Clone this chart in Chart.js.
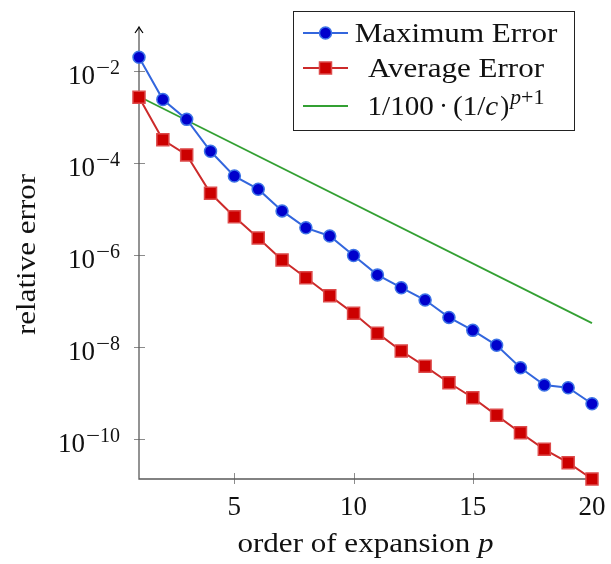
<!DOCTYPE html>
<html>
<head>
<meta charset="utf-8">
<title>relative error vs order of expansion</title>
<script src="https://cdn.jsdelivr.net/npm/chart.js@4.4.0/dist/chart.umd.min.js"></script>
<style>
  body { margin: 0; background: #fff; }
  #wrap { width: 611px; height: 564px; }
</style>
</head>
<body>
<div id="wrap"><canvas id="errorChart" width="611" height="564"></canvas></div>
<script>
// values
const orders = [1, 2, 3, 4, 5, 6, 7, 8, 9, 10, 11, 12, 13, 14, 15, 16, 17, 18, 19, 20];
const maxError = [2.0e-2, 2.4e-3, 8.9e-4, 1.8e-4, 5.2e-5, 2.7e-5, 9.1e-6, 3.9e-6, 2.6e-6, 9.8e-7,
                  3.7e-7, 1.95e-7, 1.05e-7, 4.4e-8, 2.3e-8, 1.09e-8, 3.55e-9, 1.49e-9, 1.30e-9, 5.85e-10];
const avgError = [2.7e-3, 3.2e-4, 1.5e-4, 2.2e-5, 6.8e-6, 2.34e-6, 7.8e-7, 3.2e-7, 1.3e-7, 5.4e-8,
                  2.0e-8, 8.2e-9, 3.8e-9, 1.67e-9, 7.9e-10, 3.27e-10, 1.37e-10, 5.97e-11, 3.05e-11, 1.35e-11];
// reference line 1/100*(1/c)^(p+1): just its two end points, straight on a log axis
const refOrders = [1, 20];
const refLine = [2.8e-3, 3.3e-8];

const xTicks = [5, 10, 15, 20];
const yTicks = [1e-10, 1e-8, 1e-6, 1e-4, 1e-2];
const yExponents = ['10', '8', '6', '4', '2'];

const serif = '"Liberation Serif", "Times New Roman", serif';
const WIDE = 1.15; // Computer Modern is wider than Times

function font(size, italic) {
  return (italic ? 'italic ' : '') + size + 'px ' + serif;
}

function runWidth(ctx, r) {
  ctx.font = font(r.size, r.italic);
  return ctx.measureText(r.text).width * (r.sx || 1);
}

// draw a row of text pieces (for superscripts / italics)
function drawRuns(ctx, runs, x, y, align) {
  const total = runs.reduce((w, r) => w + runWidth(ctx, r) + (r.gap || 0), 0);
  let cx = align === 'center' ? x - total / 2 : align === 'right' ? x - total : x;
  ctx.textAlign = 'left';
  ctx.textBaseline = 'alphabetic';
  runs.forEach(r => {
    const w = runWidth(ctx, r);
    ctx.save();
    ctx.translate(cx, y + (r.dy || 0));
    ctx.scale(r.sx || 1, 1);
    ctx.font = font(r.size, r.italic);
    ctx.fillText(r.text, 0, 0);
    ctx.restore();
    cx += w + (r.gap || 0);
  });
}

const texAxes = {
  id: 'texAxes',
  beforeDatasetsDraw(chart) {
    const { ctx, chartArea: a, scales: { x, y } } = chart;
    ctx.save();
    ctx.strokeStyle = '#8c8c8c';
    ctx.lineWidth = 1;
    yTicks.forEach(v => {
      const py = Math.round(y.getPixelForValue(v)) + 0.5;
      ctx.beginPath(); ctx.moveTo(a.left - 5, py); ctx.lineTo(a.left + 6, py); ctx.stroke();
    });
    xTicks.forEach(v => {
      const px = Math.round(x.getPixelForValue(v)) + 0.5;
      ctx.beginPath(); ctx.moveTo(px, a.bottom - 6); ctx.lineTo(px, a.bottom + 5); ctx.stroke();
    });

    ctx.strokeStyle = '#5a5a5a';
    ctx.lineWidth = 1.3;
    ctx.beginPath();
    ctx.moveTo(a.left, a.top - 2);
    ctx.lineTo(a.left, a.bottom);
    ctx.lineTo(a.right, a.bottom);
    ctx.stroke();

    // arrow head on the y axis
    ctx.strokeStyle = '#000';
    ctx.lineWidth = 1.2;
    ctx.beginPath();
    ctx.moveTo(a.left - 4, a.top + 3);
    ctx.quadraticCurveTo(a.left - 1, a.top - 1, a.left, a.top - 3);
    ctx.quadraticCurveTo(a.left + 1, a.top - 1, a.left + 4, a.top + 3);
    ctx.stroke();
    ctx.restore();
  },
  afterDraw(chart) {
    const { ctx, chartArea: a, scales: { x, y } } = chart;
    ctx.save();
    ctx.fillStyle = '#111';

    // y tick labels 10^-n (minus drawn wide like the TeX one)
    yTicks.forEach((v, i) => {
      const py = y.getPixelForValue(v);
      drawRuns(ctx, [
        { text: '10', size: 27, gap: 1 },
        { text: '\u2212', size: 20, dy: -10, sx: 1.25 },
        { text: yExponents[i], size: 20, dy: -10 }
      ], 120, py + 13, 'right');
    });

    // x tick labels
    xTicks.forEach(v => {
      drawRuns(ctx, [{ text: String(v), size: 27 }], x.getPixelForValue(v), 515, 'center');
    });

    // axis titles
    drawRuns(ctx, [
      { text: 'order of expansion ', size: 27, sx: WIDE },
      { text: 'p', size: 27, italic: true, sx: WIDE }
    ], (a.left + a.right) / 2, 552, 'center');

    ctx.save();
    ctx.translate(35, (a.top + a.bottom) / 2);
    ctx.rotate(-Math.PI / 2);
    drawRuns(ctx, [{ text: 'relative error', size: 27, sx: WIDE }], 0, 0, 'center');
    ctx.restore();

    // legend
    const lg = { left: 293, top: 11, right: 574, bottom: 130 };
    ctx.fillStyle = '#fff';
    ctx.fillRect(lg.left, lg.top, lg.right - lg.left, lg.bottom - lg.top);
    ctx.strokeStyle = '#222';
    ctx.lineWidth = 1;
    ctx.strokeRect(lg.left + 0.5, lg.top + 0.5, lg.right - lg.left, lg.bottom - lg.top);

    const rows = [33, 68, 106];
    chart.data.datasets.forEach((ds, i) => {
      const ry = rows[i];
      ctx.strokeStyle = ds.borderColor;
      ctx.lineWidth = ds.borderWidth;
      ctx.beginPath(); ctx.moveTo(303, ry); ctx.lineTo(348, ry); ctx.stroke();
      if (ds.pointRadius > 0) {
        ctx.fillStyle = ds.pointBackgroundColor;
        ctx.strokeStyle = ds.pointBorderColor;
        ctx.lineWidth = ds.pointBorderWidth;
        Chart.helpers.drawPoint(ctx, {
          pointStyle: ds.pointStyle, radius: ds.pointRadius, rotation: 0, borderWidth: ds.pointBorderWidth
        }, 325.5, ry);
      }
    });

    ctx.fillStyle = '#111';
    drawRuns(ctx, [{ text: 'Maximum Error', size: 27, sx: WIDE }], 456, 41.5, 'center');
    drawRuns(ctx, [{ text: 'Average Error', size: 27, sx: WIDE }], 456, 77, 'center');
    drawRuns(ctx, [
      { text: '1/100', size: 27, gap: 5, sx: 1.08 },
      { text: '\u00b7', size: 27, gap: 5 },
      { text: '(1/', size: 27, sx: 1.08 },
      { text: 'c', size: 27, italic: true, gap: 2, sx: 1.08 },
      { text: ')', size: 27, gap: 1 },
      { text: 'p', size: 20, italic: true, dy: -11, sx: 1.08 },
      { text: '+1', size: 20, dy: -11, sx: 1.1 }
    ], 456, 115, 'center');

    ctx.restore();
  }
};

const toPoints = (xs, ys) => xs.map((p, i) => ({ x: p, y: ys[i] }));

new Chart(document.getElementById('errorChart'), {
  type: 'line',
  data: {
    datasets: [{
      label: 'Maximum Error',
      data: toPoints(orders, maxError),
      borderColor: '#3366dd',
      borderWidth: 2,
      pointStyle: 'circle',
      pointRadius: 6,
      pointBackgroundColor: '#0000cc',
      pointBorderColor: '#3d73e6',
      pointBorderWidth: 1.5,
      clip: false
    }, {
      label: 'Average Error',
      data: toPoints(orders, avgError),
      borderColor: '#cc2a2a',
      borderWidth: 2,
      pointStyle: 'rect',
      pointRadius: 8.5,
      pointBackgroundColor: '#cc0000',
      pointBorderColor: '#dd4a4a',
      pointBorderWidth: 1.5,
      clip: false
    }, {
      label: '1/100 (1/c)^(p+1)',
      data: toPoints(refOrders, refLine),
      borderColor: '#33a033',
      borderWidth: 1.8,
      pointRadius: 0,
      clip: false
    }]
  },
  options: {
    responsive: false,
    animation: false,
    events: [],
    layout: { padding: { left: 139, right: 19, top: 30, bottom: 85 } },
    scales: {
      x: { type: 'linear', min: 1, max: 20, display: false },
      y: { type: 'logarithmic', min: 1.35e-11, max: 0.078, display: false }
    },
    plugins: {
      legend: { display: false },
      tooltip: { enabled: false }
    }
  },
  plugins: [texAxes]
});
</script>
</body>
</html>
